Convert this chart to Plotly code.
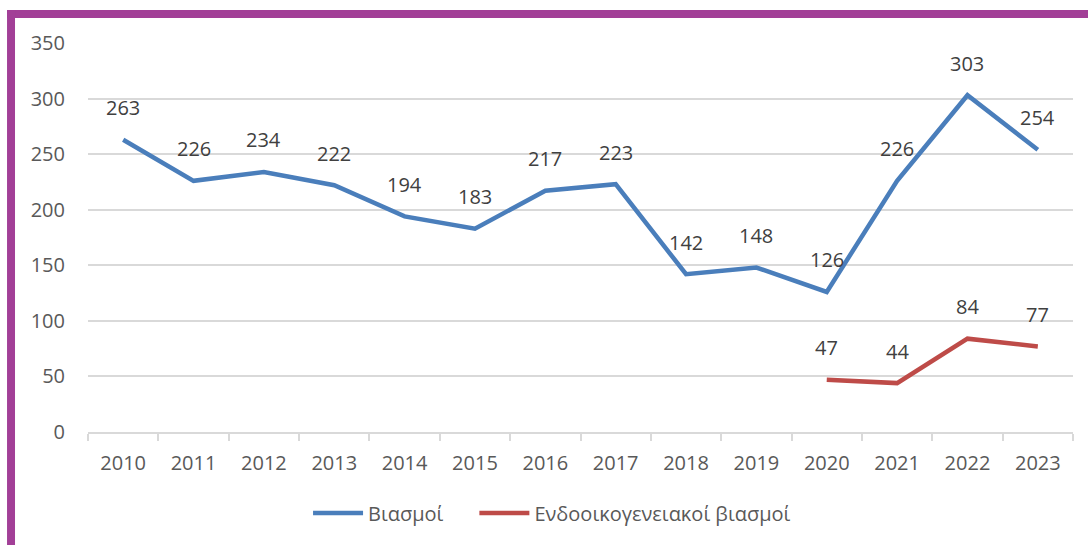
import plotly.graph_objects as go

years = ["2010", "2011", "2012", "2013", "2014", "2015", "2016", "2017",
         "2018", "2019", "2020", "2021", "2022", "2023"]
rapes = [263, 226, 234, 222, 194, 183, 217, 223, 142, 148, 126, 226, 303, 254]
dom_years = ["2020", "2021", "2022", "2023"]
domestic = [47, 44, 84, 77]
y_ticks = [0, 50, 100, 150, 200, 250, 300, 350]

BLUE = "#4a7ebb"
RED = "#be4b48"
PURPLE = "#a23f97"
FONT = "Open Sans"

fig = go.Figure()
fig.add_trace(go.Scatter(x=years, y=rapes, mode="lines",
                         name="Βιασμοί" + "\u00a0" * 5,
                         line=dict(color=BLUE, width=4.5)))
fig.add_trace(go.Scatter(x=dom_years, y=domestic, mode="lines",
                         name="Ενδοοικογενειακοί βιασμοί",
                         line=dict(color=RED, width=4.5)))

annotations = []
for xs, ys in ((years, rapes), (dom_years, domestic)):
    for xv, yv in zip(xs, ys):
        annotations.append(dict(x=years.index(xv), y=yv, text=str(yv), showarrow=False,
                                xref="x", yref="y", yshift=32,
                                font=dict(family=FONT, size=20, color="#404040")))

shapes = [
    dict(type="rect", xref="paper", yref="paper", x0=-0.0822, x1=1.02,
         y0=1.0643, y1=1.0848, fillcolor=PURPLE, line=dict(width=0), layer="above"),
    dict(type="rect", xref="paper", yref="paper", x0=-0.0822, x1=-0.0741,
         y0=-0.30, y1=1.0848, fillcolor=PURPLE, line=dict(width=0), layer="above"),
]

fig.update_layout(
    width=1088, height=545,
    margin=dict(l=88, r=15, t=43, b=113),
    paper_bgcolor="white", plot_bgcolor="white",
    font=dict(family=FONT, size=20, color="#595959"),
    showlegend=True,
    legend=dict(orientation="h", x=0.2234, xanchor="left", y=-0.208, yanchor="middle",
                font=dict(family=FONT, size=20, color="#595959"),
                itemwidth=50, bgcolor="rgba(0,0,0,0)"),
    annotations=annotations,
    shapes=shapes,
)
fig.update_xaxes(type="category", categoryorder="array", categoryarray=years,
                 range=[-0.5, len(years) - 0.5],
                 showgrid=False, showline=True, linecolor="#d9d9d9", linewidth=2,
                 ticks="outside", tickson="boundaries", ticklen=7, tickwidth=2,
                 tickcolor="#d9d9d9", ticklabelstandoff=12, tickangle=0,
                 tickfont=dict(family=FONT, size=20, color="#595959"))
fig.update_yaxes(range=[0, 350], tickvals=y_ticks, showgrid=True,
                 gridcolor="#d9d9d9", gridwidth=1.5, zeroline=False, showline=False,
                 ticklabelstandoff=22,
                 tickfont=dict(family=FONT, size=20, color="#595959"))

fig.write_html("out.html", config={"displayModeBar": False},
               post_script="document.body.style.margin='0';")
